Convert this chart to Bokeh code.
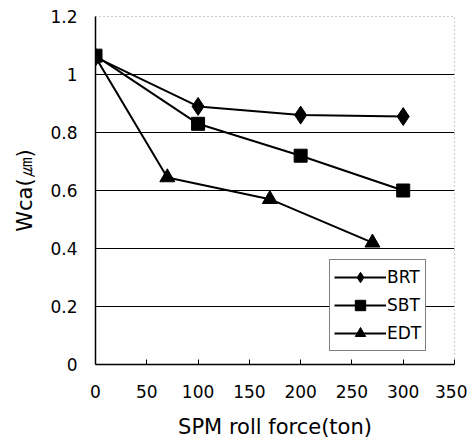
from bokeh.plotting import figure
from bokeh.models import Legend, LegendItem, FixedTicker, Range1d
from bokeh.embed import file_html
from bokeh.resources import INLINE

force_brt = [0, 100, 200, 300]
wca_brt = [1.06, 0.89, 0.86, 0.855]
force_sbt = [0, 100, 200, 300]
wca_sbt = [1.065, 0.83, 0.72, 0.60]
force_edt = [0, 70, 170, 270]
wca_edt = [1.06, 0.645, 0.57, 0.42]
x_ticks = [0, 50, 100, 150, 200, 250, 300, 350]
y_ticks = [0, 0.2, 0.4, 0.6, 0.8, 1.0, 1.2]

FONT = "DejaVu Sans"

p = figure(width=467, height=441, output_backend="svg", toolbar_location=None,
           x_range=Range1d(0, 350), y_range=Range1d(0, 1.2),
           min_border_left=95, min_border_right=13, min_border_top=16, min_border_bottom=75)
p.background_fill_color = "white"
p.border_fill_color = "white"
p.outline_line_color = "#999999"
p.outline_line_dash = "1 3"
p.outline_line_width = 1

p.xgrid.visible = False
p.ygrid.grid_line_color = "black"
p.ygrid.grid_line_width = 1
p.ygrid.ticker = FixedTicker(ticks=y_ticks)

p.xaxis.ticker = FixedTicker(ticks=x_ticks)
p.yaxis.ticker = FixedTicker(ticks=y_ticks)
p.yaxis.major_label_overrides = {0: "0", 0.2: "0.2", 0.4: "0.4", 0.6: "0.6", 0.8: "0.8", 1.0: "1", 1.2: "1.2"}
for ax in (p.xaxis[0], p.yaxis[0]):
    ax.axis_line_color = "black"
    ax.axis_line_width = 1.5
    ax.major_label_text_font = FONT
    ax.major_label_text_font_size = "17px"
    ax.major_label_text_color = "black"
    ax.axis_label_text_font = FONT
    ax.axis_label_text_font_size = "21px"
    ax.axis_label_text_font_style = "normal"
    ax.axis_label_text_color = "black"
    ax.minor_tick_line_color = None
p.xaxis.major_tick_in = 5
p.xaxis.major_tick_out = 0
p.xaxis.major_tick_line_color = "black"
p.xaxis.major_label_standoff = 20
p.yaxis.major_tick_in = 0
p.yaxis.major_tick_out = 0
p.yaxis.major_label_standoff = 18
p.xaxis.axis_label = "SPM roll force(ton)"
p.yaxis.axis_label = "Wca(㎛)"
p.xaxis.axis_label_standoff = 14
p.yaxis.axis_label_standoff = 10

lw = 2
r1 = p.line(force_brt, wca_brt, line_color="black", line_width=lw)
m1 = p.scatter(force_brt, wca_brt, marker="diamond", size=18, color="black")
r2 = p.line(force_sbt, wca_sbt, line_color="black", line_width=lw)
m2 = p.scatter(force_sbt, wca_sbt, marker="square", size=13, color="black")
r3 = p.line(force_edt, wca_edt, line_color="black", line_width=lw)
m3 = p.scatter(force_edt, wca_edt, marker="triangle", size=15, color="black")

legend = Legend(items=[LegendItem(label="BRT", renderers=[r1, m1]),
                       LegendItem(label="SBT", renderers=[r2, m2]),
                       LegendItem(label="EDT", renderers=[r3, m3])],
                location=(234, 13))
legend.border_line_color = "black"
legend.border_line_width = 1
legend.background_fill_color = "white"
legend.background_fill_alpha = 1
legend.label_text_font = FONT
legend.label_text_font_size = "17px"
legend.label_text_color = "black"
legend.glyph_width = 52
legend.glyph_height = 26
legend.label_standoff = 1
legend.spacing = 2
legend.padding = 4
legend.margin = 0
p.add_layout(legend, "center")

open("out.html", "w").write(file_html(p, INLINE))
